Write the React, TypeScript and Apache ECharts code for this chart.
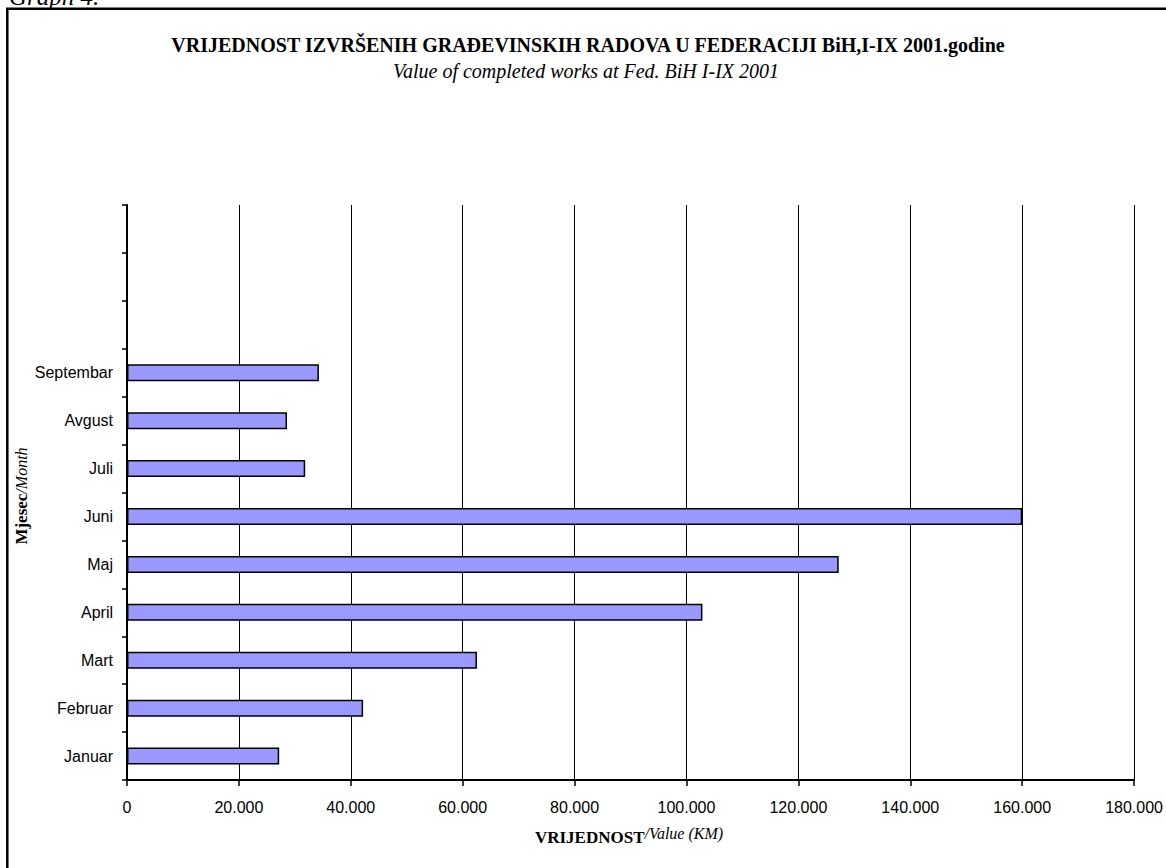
import React, { useEffect, useRef } from "react";
import * as echarts from "echarts";

const months = ["Januar", "Februar", "Mart", "April", "Maj", "Juni", "Juli", "Avgust", "Septembar"];
const emptySlots = ["", "", ""];
const values = [27200, 42200, 62550, 102850, 127200, 160000, 31850, 28600, 34300];
const xMin = 0;
const xMax = 180000;
const xStep = 20000;

const titleText = "VRIJEDNOST IZVRŠENIH GRAĐEVINSKIH RADOVA U FEDERACIJI BiH,I-IX 2001.godine";
const subtitleText = "Value of completed works at Fed. BiH I-IX 2001";

const fmt = (v: number) => String(v).replace(/\B(?=(\d{3})+(?!\d))/g, ".");

export default function App() {
  const ref = useRef<HTMLDivElement>(null);
  useEffect(() => {
    if (!ref.current) return;
    const chart = echarts.init(ref.current, null, { renderer: "svg" });
    const serif = "'Liberation Serif', 'Times New Roman', serif";
    const sans = "'Liberation Sans', Arial, sans-serif";
    chart.setOption({
      animation: false,
      backgroundColor: "#ffffff",
      grid: { left: 127, right: 31, top: 205, bottom: 88, containLabel: false },
      xAxis: {
        type: "value",
        min: xMin,
        max: xMax,
        interval: xStep,
        axisLine: { show: true, lineStyle: { color: "#000", width: 2 } },
        axisTick: { show: true, length: 6, lineStyle: { color: "#000", width: 1.5 } },
        axisLabel: { color: "#000", fontFamily: sans, fontSize: 16, margin: 19, formatter: (v: number) => fmt(v) },
        splitLine: { show: true, lineStyle: { color: "#000", width: 1 } },
      },
      yAxis: {
        type: "category",
        data: [...months, ...emptySlots],
        axisLine: { show: true, lineStyle: { color: "#000", width: 2 } },
        axisTick: { show: true, length: 5, interval: 0, lineStyle: { color: "#000", width: 1.5 } },
        axisLabel: { color: "#000", fontFamily: sans, fontSize: 16, margin: 14, interval: 0 },
        splitLine: { show: false },
      },
      series: [
        {
          type: "bar",
          data: [...values, ...emptySlots.map(() => null)],
          barWidth: 17,
          itemStyle: { color: "#9999FF", borderColor: "#000", borderWidth: 1.5 },
        },
      ],
      graphic: [
        {
          type: "rect",
          shape: { x: 7.3, y: 8.7, width: 1300, height: 1000 },
          style: { fill: "none", stroke: "#000", lineWidth: 2.5 },
          silent: true,
        },
        {
          type: "text",
          x: 9,
          y: 9,
          style: {
            text: "Graph 4.",
            font: "italic 25px " + serif,
            fill: "#000",
            textAlign: "left",
            textVerticalAlign: "bottom",
          },
        },
        {
          type: "text",
          x: 588,
          y: 45,
          style: {
            text: titleText,
            font: "bold 20px " + serif,
            fill: "#000",
            textAlign: "center",
            textVerticalAlign: "middle",
          },
        },
        {
          type: "text",
          x: 586,
          y: 71,
          style: {
            text: subtitleText,
            font: "italic 20px " + serif,
            fill: "#000",
            textAlign: "center",
            textVerticalAlign: "middle",
          },
        },
        {
          type: "text",
          x: 21.5,
          y: 496,
          rotation: Math.PI / 2,
          style: {
            text: "{b|Mjesec}{i|/Month}",
            textAlign: "center",
            textVerticalAlign: "middle",
            rich: {
              b: { font: "bold 17px " + serif, fill: "#000" },
              i: { font: "italic 16px " + serif, fill: "#000" },
            },
          },
        },
        {
          type: "text",
          x: 629,
          y: 837,
          style: {
            text: "{b|VRIJEDNOST}{i|/Value (KM)}",
            textAlign: "center",
            textVerticalAlign: "middle",
            rich: {
              b: { font: "bold 17px " + serif, fill: "#000" },
              i: { font: "italic 16px " + serif, fill: "#000", padding: [0, 0, 8, 0] },
            },
          },
        },
      ],
    });
    return () => chart.dispose();
  }, []);
  return <div ref={ref} style={{ position: "absolute", left: 0, top: 0, width: 1166, height: 868 }} />;
}
